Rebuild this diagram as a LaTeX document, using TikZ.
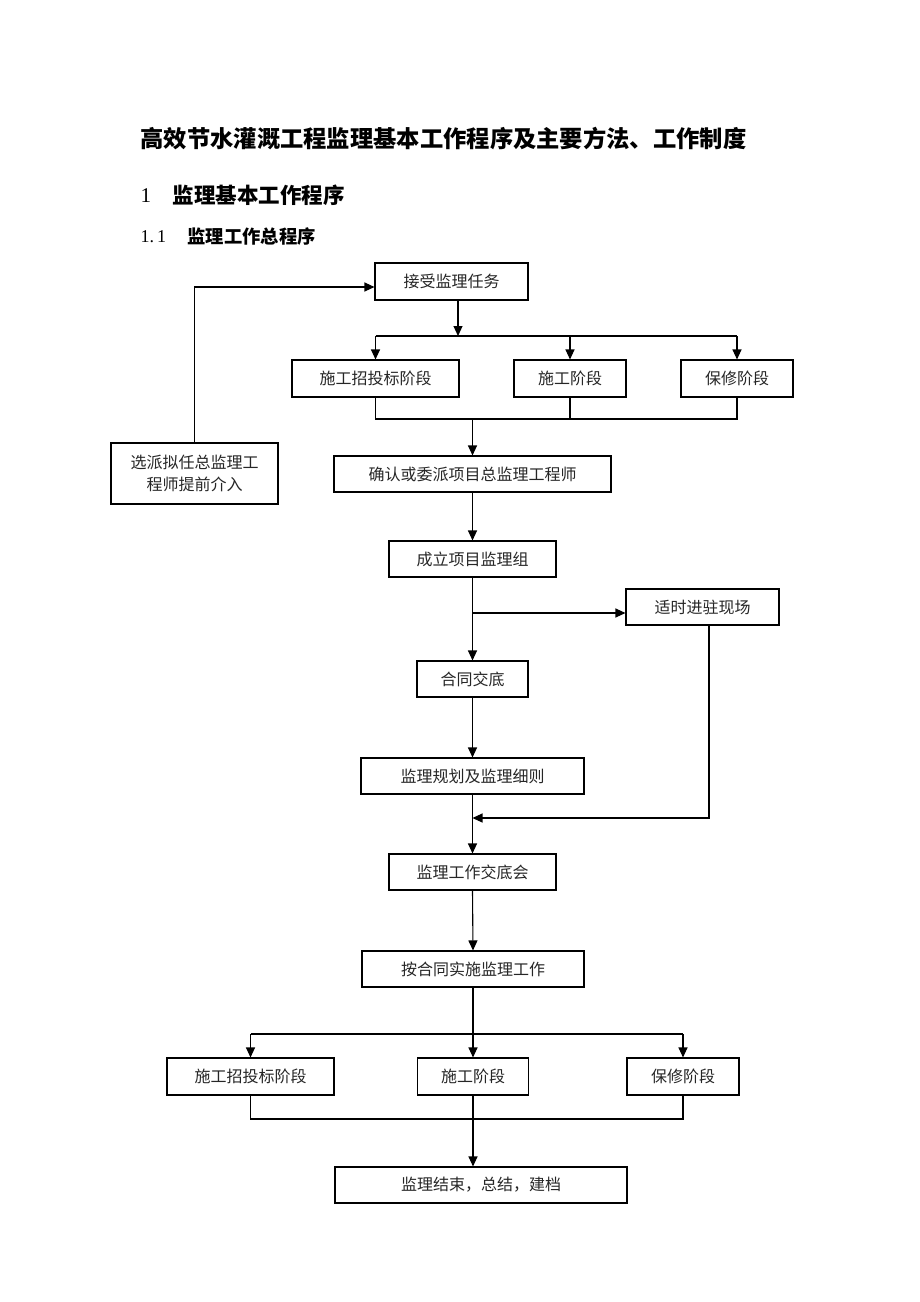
\documentclass[tikz,border=0pt]{standalone}
\usepackage{fontspec}
\setmainfont{Liberation Serif}
\newfontfamily\cjk{Noto Sans CJK SC}
\usetikzlibrary{arrows.meta}
\begin{document}
\begin{tikzpicture}[x=1pt,y=-1pt,
  line width=1.1pt,
  boxnode/.style={draw,rectangle,inner sep=0pt,line width=1.1pt,font=\cjk\fontsize{16}{22}\selectfont,align=center,text=black!85},
  arr/.style={-{Triangle[length=10pt,width=9pt]}},
  txt/.style={inner sep=0pt,anchor=west}]
\useasboundingbox[fill=white] (0,0) rectangle (920,1302);
% headings
\node[txt,font=\cjk\bfseries\fontsize{23.3}{28}\selectfont] (title) at (140,139) {高效节水灌溉工程监理基本工作程序及主要方法、工作制度};
\node[txt,font=\fontsize{21}{24}\selectfont] (h1n) at (140,196) {1};
\node[txt,font=\cjk\bfseries\fontsize{21.5}{24}\selectfont] (h1) at (172,195) {监理基本工作程序};
\node[txt,font=\fontsize{18}{22}\selectfont] (h2n) at (140,237) {1.\,1};
\node[txt,font=\cjk\bfseries\fontsize{18.3}{22}\selectfont] (h2) at (187,236) {监理工作总程序};
% boxes
\node[boxnode,minimum width=153,minimum height=37] (a) at (451.5,281.5) {接受监理任务};
\node[boxnode,minimum width=167,minimum height=37] (b1) at (375.5,378.5) {施工招投标阶段};
\node[boxnode,minimum width=112,minimum height=37] (b2) at (570,378.5) {施工阶段};
\node[boxnode,minimum width=112,minimum height=37] (b3) at (737,378.5) {保修阶段};
\node[boxnode,minimum width=277,minimum height=36] (c) at (472.5,474) {确认或委派项目总监理工程师};
\node[boxnode,minimum width=167,minimum height=61] (s) at (194.5,473.5) {选派拟任总监理工\\程师提前介入};
\node[boxnode,minimum width=167,minimum height=36] (d) at (472.5,559) {成立项目监理组};
\node[boxnode,minimum width=153,minimum height=36] (e) at (702.5,607) {适时进驻现场};
\node[boxnode,minimum width=111,minimum height=36] (f) at (472.5,679) {合同交底};
\node[boxnode,minimum width=223,minimum height=36] (g) at (472.5,776) {监理规划及监理细则};
\node[boxnode,minimum width=167,minimum height=36] (h) at (472.5,872) {监理工作交底会};
\node[boxnode,minimum width=222,minimum height=36] (i) at (473,969) {按合同实施监理工作};
\node[boxnode,minimum width=167,minimum height=37] (j1) at (250.5,1076.5) {施工招投标阶段};
\node[boxnode,minimum width=111,minimum height=37] (j2) at (473,1076.5) {施工阶段};
\node[boxnode,minimum width=112,minimum height=37] (j3) at (683,1076.5) {保修阶段};
\node[boxnode,minimum width=292,minimum height=36] (k) at (481,1185) {监理结束，总结，建档};
% coordinates
\coordinate (bus1) at (458,336);
\coordinate (bus2) at (472.5,419);
\coordinate (sup) at (195,287);
\coordinate (br) at (472.5,613);
\coordinate (eb) at (709,818);
\coordinate (ret) at (472.5,818);
\coordinate (bus3) at (473,1034);
\coordinate (bus4) at (473,1119);
% connectors top
\draw[arr] (a.south -| bus1) -- (bus1);
\draw (b1.north |- bus1) -- (b3.north |- bus1);
\draw[arr] (b1.north |- bus1) -- (b1.north);
\draw[arr] (b2.north |- bus1) -- (b2.north);
\draw[arr] (b3.north |- bus1) -- (b3.north);
\draw (b1.south) -- (b1.south |- bus2) -- (b3.south |- bus2) -- (b3.south);
\draw (b2.south) -- (b2.south |- bus2);
\draw[arr] (bus2) -- (c.north);
\draw[arr] (s.north) -- (s.north |- sup) -- (a.west |- sup);
\draw[arr] (c.south) -- (d.north);
\draw[arr] (d.south) -- (f.north);
\draw[arr] (br) -- (e.west |- br);
\draw[arr] (e.south -| eb) -- (eb) -- (ret);
\draw[arr] (f.south) -- (g.north);
\draw[arr] (g.south) -- (h.north);
\draw[arr] (h.south) -- (i.north);
% connectors bottom
\draw (j1.north |- bus3) -- (j3.north |- bus3);
\draw[arr] (i.south) -- (j2.north);
\draw[arr] (j1.north |- bus3) -- (j1.north);
\draw[arr] (j3.north |- bus3) -- (j3.north);
\draw (j1.south) -- (j1.south |- bus4) -- (j3.south |- bus4) -- (j3.south);
\draw[arr] (j2.south) -- (j2.south |- k.north);
\end{tikzpicture}
\end{document}
